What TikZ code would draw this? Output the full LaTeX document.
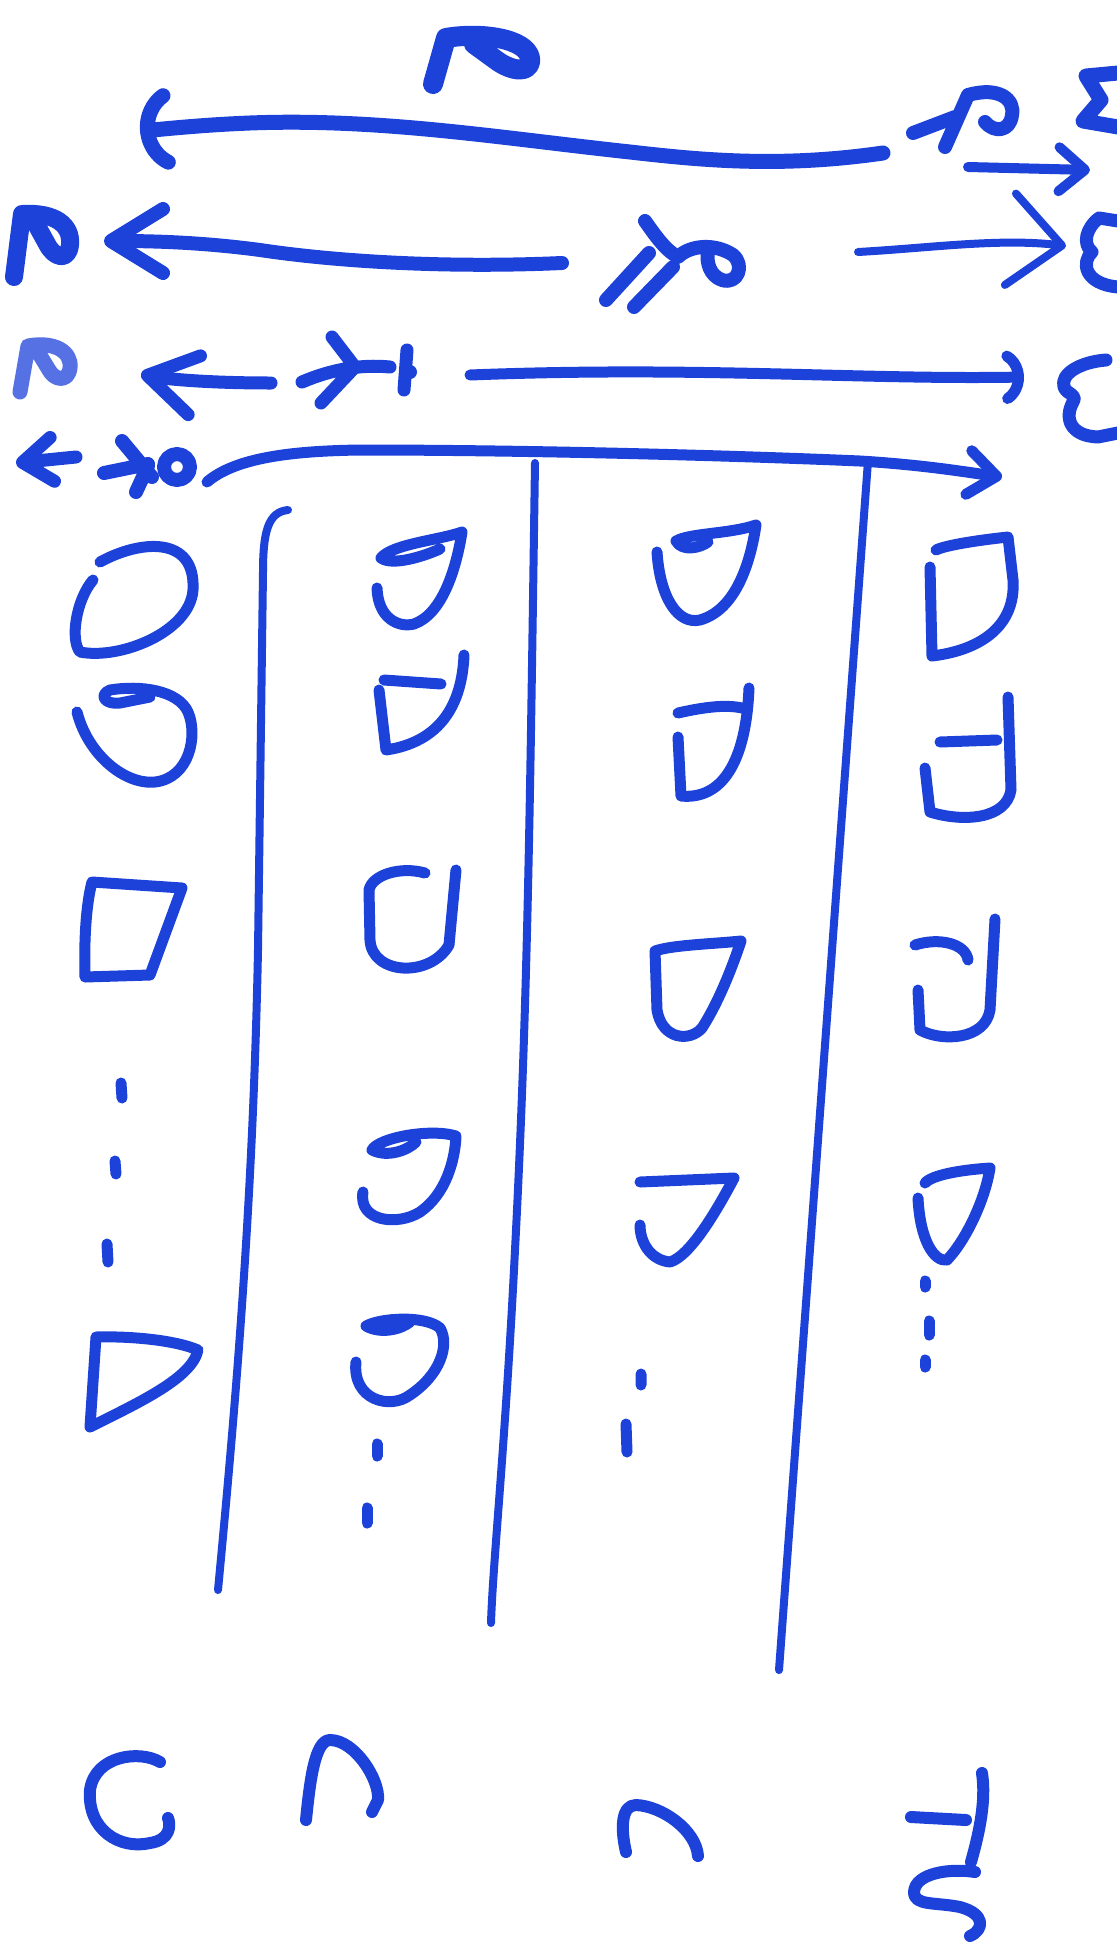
\documentclass[tikz,border=0pt]{standalone}
\usepackage{xcolor}
\usepackage{tikz}
\usetikzlibrary{arrows.meta}
\definecolor{marker}{RGB}{28,66,218}

\begin{document}
\begin{tikzpicture}[x=0.5pt, y=-0.5pt,
		ink/.style={draw=marker, line width=5.5pt, line cap=round, line join=round},
		heavy/.style={ink, line width=7.5pt},
		rule/.style={ink, line width=4pt},
		barb/.style={-{Straight Barb[round, #1]}},
		arcbarb/.style={-{Arc Barb[round, arc=120, #1]}}]
		\fill[white] (0,0) rectangle (1116,1943);
		\useasboundingbox (0,0) rectangle (1116,1943);

		\coordinate (r1r) at (883,153);
		\coordinate (r1l) at (140,131);
		\coordinate (r1a) at (968,167);
		\coordinate (r1b) at (1090,170);
		\coordinate (r2a) at (562,263);
		\coordinate (r2t) at (104,241);
		\coordinate (r2b) at (858,252);
		\coordinate (r2c) at (1066,246);
		\coordinate (r3a) at (271,383);
		\coordinate (r3t) at (141,374);
		\coordinate (r3b) at (470,375);
		\coordinate (r3c) at (1024,377);
		\coordinate (r4a) at (76,457);
		\coordinate (r4t) at (16,463);
		\coordinate (r4b) at (207,482);
		\coordinate (r4c) at (1002,477);
		\coordinate (latop) at (288,510);
		\coordinate (labot) at (218,1590);
		\coordinate (lbtop) at (535,463);
		\coordinate (lbbot) at (491,1623);
		\coordinate (lctop) at (868,461);
		\coordinate (lcbot) at (779,1670);

		\draw[heavy, line width=10pt] (433,84) -- (446,38) .. controls (480,32) and (526,38) .. (530,58) .. controls (532,74) and (512,72) .. (496,60) -- (474,44);
		\draw[heavy, arcbarb={length=22pt, width=46pt}] (r1r) .. controls (780,168) and (700,160) .. (630,152) .. controls (500,138) and (380,118) .. (250,123) .. controls (200,125) and (165,129) .. (r1l);
		\draw[ink, line width=5pt, barb={length=13pt, width=22pt}] (r1a) -- (r1b);
		\draw[heavy, line width=7pt] (913,133) -- (955,117) (945,147) -- (968,95) .. controls (1000,86) and (1015,100) .. (1012,115) .. controls (1010,132) and (994,133) .. (985,122);
		\draw[heavy] (1118,73) -- (1086,76) -- (1101,100) -- (1083,121) -- (1118,127);

		\draw[heavy, line width=9pt] (14,277) -- (22,214) .. controls (55,212) and (72,225) .. (70,245) .. controls (68,262) and (54,258) .. (47,244) -- (36,224);
		\draw[heavy, line width=7pt, barb={length=26pt, width=32pt}] (r2a) .. controls (450,268) and (340,262) .. (260,250) .. controls (200,242) and (150,241) .. (r2t);
		\draw[heavy, line width=7pt] (645,221) .. controls (655,235) and (665,250) .. (678,257) .. controls (690,245) and (715,243) .. (733,255) .. controls (745,265) and (738,285) .. (722,280) .. controls (710,276) and (706,262) .. (708,252);
		\draw[heavy, line width=7pt] (606,300) -- (649,253) (634,307) -- (673,267);
		\draw[ink, line width=4pt, barb={length=26pt, width=46pt}] (r2b) .. controls (930,248) and (1000,238) .. (r2c);
		\draw[heavy, line width=6.5pt] (1118,221) -- (1099,218) .. controls (1086,228) and (1082,244) .. (1092,252) .. controls (1081,262) and (1084,284) .. (1118,287);

		\draw[heavy, draw=marker!75] (20,392) -- (28,346) .. controls (55,341) and (72,352) .. (70,368) .. controls (68,383) and (54,380) .. (49,370) -- (38,352);
		\draw[heavy, line width=6.5pt, barb={length=24pt, width=30pt}] (r3a) .. controls (200,383) and (160,378) .. (r3t);
		\draw[heavy, line width=6.5pt] (332,337) -- (355,367) -- (321,403) (302,382) .. controls (330,370) and (360,364) .. (390,367) (407,350) -- (404,390);
		\fill[marker] (410,372) circle (7);
		\draw[heavy, line width=5.5pt, arcbarb={length=14pt, width=30pt}] (r3b) .. controls (700,366) and (860,380) .. (r3c);
		\draw[heavy, line width=6.5pt] (1106,360) .. controls (1080,362) and (1060,374) .. (1064,387) .. controls (1067,395) and (1078,394) .. (1073,402) .. controls (1064,418) and (1070,436) .. (1098,437) -- (1118,433);

		\draw[heavy, line width=6.5pt, barb={length=15pt, width=22pt}] (r4a) -- (r4t);
		\draw[heavy, line width=7pt] (122,441) -- (152,477) (104,473) -- (148,464) (136,492) -- (148,466);
		\draw[heavy, line width=7pt] (177,467) circle (13);
		\draw[ink, line width=5.5pt, barb={length=14pt, width=22pt}] (r4b) .. controls (235,458) and (290,451) .. (360,450) .. controls (520,450) and (720,455) .. (860,461) .. controls (925,465) and (965,472) .. (r4c);

		\draw[rule] (latop) .. controls (268,512) and (263,532) .. (263,572) -- (258,950) .. controls (253,1200) and (236,1400) .. (labot);
		\draw[rule] (lbtop) .. controls (530,800) and (528,1000) .. (515,1250) .. controls (505,1450) and (493,1560) .. (lbbot);
		\draw[rule] (lctop) -- (lcbot);

		\draw[ink] (100,562) .. controls (140,540) and (196,535) .. (193,590) .. controls (190,632) and (120,660) .. (80,652) .. controls (70,640) and (76,600) .. (93,580);
		\draw[ink] (77,712) .. controls (88,755) and (125,785) .. (155,782) .. controls (190,778) and (198,735) .. (188,712) .. controls (178,690) and (140,685) .. (110,690) .. controls (98,695) and (105,705) .. (120,703) -- (150,697);
		\draw[ink] (85,977) .. controls (84,940) and (86,905) .. (92,882) -- (182,888) -- (150,975) -- cycle;
		\draw[ink] (121,1083) -- (122,1098) (115,1161) -- (116,1174) (107,1244) -- (108,1262);
		\draw[ink] (90,1427) -- (96,1337) .. controls (130,1336) and (175,1340) .. (198,1350) .. controls (192,1378) and (140,1402) .. cycle;

		\draw[ink] (377,588) .. controls (378,618) and (398,628) .. (414,624) .. controls (442,614) and (456,570) .. (462,532) .. controls (440,540) and (392,544) .. (381,558) .. controls (392,566) and (422,557) .. (440,549);
		\draw[ink] (464,655) .. controls (462,705) and (440,742) .. (386,750) -- (379,690) (384,680) -- (441,684);
		\draw[ink] (425,873) .. controls (400,866) and (372,875) .. (369,890) -- (370,940) .. controls (372,975) and (430,978) .. (449,945) -- (456,870);
		\draw[ink] (363,1192) .. controls (358,1222) and (398,1226) .. (420,1212) .. controls (446,1194) and (455,1160) .. (456,1136) .. controls (430,1128) and (378,1138) .. (372,1150) .. controls (388,1158) and (408,1150) .. (416,1142);
		\draw[ink] (356,1362) .. controls (352,1400) and (390,1410) .. (410,1395) .. controls (440,1375) and (450,1345) .. (440,1328) .. controls (425,1315) and (380,1318) .. (366,1326) .. controls (380,1334) and (400,1330) .. (410,1322);
		\draw[ink] (377,1444) -- (377,1456) (367,1508) -- (367,1523);

		\draw[ink] (657,552) .. controls (660,598) and (678,625) .. (700,620) .. controls (735,610) and (750,565) .. (756,525) .. controls (730,534) and (690,533) .. (676,541) .. controls (682,552) and (700,548) .. (708,542);
		\draw[ink] (678,737) -- (681,796) .. controls (722,800) and (746,762) .. (749,688) (678,713) .. controls (700,708) and (724,704) .. (742,708);
		\draw[ink] (655,951) -- (657,1010) .. controls (662,1040) and (690,1042) .. (702,1028) .. controls (720,1000) and (734,962) .. (741,941) .. controls (712,944) and (672,945) .. cycle;
		\draw[ink] (640,1182) -- (734,1178) .. controls (716,1212) and (690,1256) .. (670,1262) .. controls (650,1260) and (640,1242) .. (640,1225);
		\draw[ink] (641,1374) -- (641,1385) (626,1424) -- (627,1452);

		\draw[ink] (930,567) -- (932,656) .. controls (982,650) and (1016,625) .. (1013,580) -- (1008,537) .. controls (980,540) and (946,545) .. (936,550);
		\draw[ink] (925,768) -- (930,812) .. controls (962,822) and (1006,820) .. (1011,790) -- (1008,697) (940,742) -- (997,740);
		\draw[ink] (915,945) .. controls (940,937) and (966,944) .. (968,960) (918,990) -- (920,1030) .. controls (942,1042) and (985,1040) .. (990,1010) -- (995,919);
		\draw[ink] (918,1198) .. controls (920,1240) and (934,1262) .. (947,1260) .. controls (966,1240) and (985,1200) .. (990,1168) .. controls (960,1170) and (932,1175) .. (925,1183);
		\draw[ink] (925,1281) -- (925,1287) (929,1321) -- (929,1335) (925,1360) -- (925,1367);

		\draw[ink, line width=6pt] (160,1762) .. controls (140,1750) and (95,1755) .. (90,1790) .. controls (87,1830) and (120,1850) .. (150,1843) .. controls (170,1840) and (171,1826) .. (168,1818);
		\draw[ink, line width=6pt] (306,1820) .. controls (310,1780) and (315,1740) .. (330,1740) .. controls (355,1740) and (380,1780) .. (378,1800) -- (372,1812);
		\draw[ink, line width=6pt] (626,1852) .. controls (620,1826) and (622,1805) .. (636,1805) .. controls (662,1806) and (696,1830) .. (698,1856);
		\draw[ink, line width=6pt] (982,1773) .. controls (986,1800) and (980,1830) .. (971,1862) (911,1817) -- (966,1820) (975,1872) .. controls (950,1868) and (915,1873) .. (914,1892) .. controls (914,1906) and (935,1902) .. (960,1907) .. controls (986,1914) and (984,1930) .. (970,1936);
	\end{tikzpicture}
\end{document}
